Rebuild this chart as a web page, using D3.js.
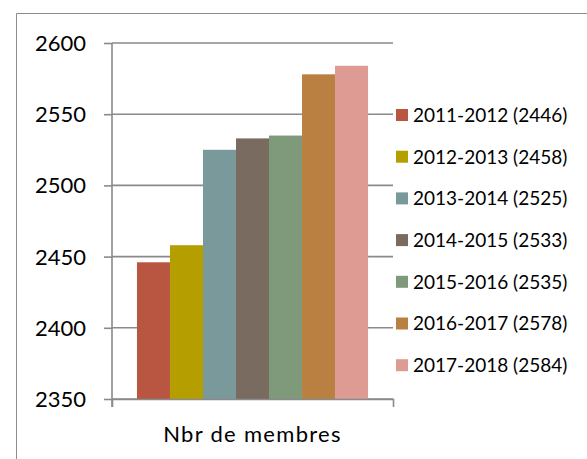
<!DOCTYPE html>
<html>
<head>
<meta charset="utf-8">
<script src="https://cdn.jsdelivr.net/npm/d3@7"></script>
<style>
  html, body { margin: 0; padding: 0; background: #fff; }
  svg { display: block; }
</style>
</head>
<body>
<svg id="chart" width="587" height="459"></svg>
<script>
const categories = ["Nbr de membres"];
const seriesNames = ["2011-2012", "2012-2013", "2013-2014", "2014-2015", "2015-2016", "2016-2017", "2017-2018"];
const seriesValues = [2446, 2458, 2525, 2533, 2535, 2578, 2584];
const seriesColors = ["#B95641", "#B59E00", "#7A999A", "#7A6B60", "#7E9A7A", "#BA8042", "#DD9B94"];
const yTicks = [2350, 2400, 2450, 2500, 2550, 2600];

const svg = d3.select("#chart");
const font = "Lato, 'Open Sans', sans-serif";
const gridColor = "#8a8a8a";

// outer chart border (left & top visible)
svg.append("path")
  .attr("d", "M16.5,459 V13.5 H587")
  .attr("fill", "none").attr("stroke", "#8c8c8c").attr("stroke-width", 1);

const plot = { left: 112, right: 393, top: 43, bottom: 399 };

const y = d3.scaleLinear().domain([2350, 2600]).range([plot.bottom, plot.top]);
const x0 = d3.scaleBand().domain(categories).range([plot.left, plot.right]).paddingInner(0).paddingOuter(0.108);
const x1 = d3.scaleBand().domain(seriesNames).range([0, x0.bandwidth()]).padding(0);

// gridlines + y ticks
const yAxis = d3.axisLeft(y).tickValues(yTicks).tickSize(8).tickPadding(18).tickFormat(d3.format("d"));
const gy = svg.append("g").attr("transform", `translate(${plot.left},0)`).call(yAxis);
gy.select(".domain").remove();
gy.selectAll(".tick line").attr("stroke", gridColor).attr("stroke-width", 1.6);
gy.selectAll(".tick text").attr("font-family", font).attr("font-size", 22).attr("fill", "#000").attr("dy", "0.34em");

svg.append("g").selectAll("line").data(yTicks).join("line")
  .attr("x1", plot.left).attr("x2", plot.right)
  .attr("y1", d => y(d)).attr("y2", d => y(d))
  .attr("stroke", gridColor).attr("stroke-width", 1.6);

// bars
svg.append("g").selectAll("rect").data(seriesValues).join("rect")
  .attr("x", (d, i) => x0(categories[0]) + x1(seriesNames[i]))
  .attr("width", x1.bandwidth())
  .attr("y", d => y(d))
  .attr("height", d => y(2350) - y(d))
  .attr("fill", (d, i) => seriesColors[i]);

// y axis line
svg.append("line").attr("x1", plot.left).attr("x2", plot.left).attr("y1", plot.top).attr("y2", plot.bottom + 8)
  .attr("stroke", gridColor).attr("stroke-width", 1.6);

// x axis
const xAxis = d3.axisBottom(x0).tickSizeInner(0).tickSizeOuter(8).tickPadding(0);
const gx = svg.append("g").attr("transform", `translate(0,${plot.bottom})`).call(xAxis);
gx.select(".domain").attr("stroke", gridColor).attr("stroke-width", 1.6);
gx.selectAll(".tick text").attr("font-family", font).attr("font-size", 22).attr("fill", "#000")
  .attr("y", 43).attr("dy", 0).attr("letter-spacing", "1.3px");

// legend
const legend = svg.append("g");
const rows = legend.selectAll("g").data(seriesNames).join("g")
  .attr("transform", (d, i) => `translate(396,${115 + i * 41.7})`);
rows.append("rect").attr("x", 0).attr("y", -6).attr("width", 12).attr("height", 12)
  .attr("fill", (d, i) => seriesColors[i]);
rows.append("text").attr("x", 17).attr("dy", "0.36em")
  .attr("font-family", font).attr("font-size", 19).attr("fill", "#000")
  .text((d, i) => `${d} (${seriesValues[i]})`);
</script>
</body>
</html>
